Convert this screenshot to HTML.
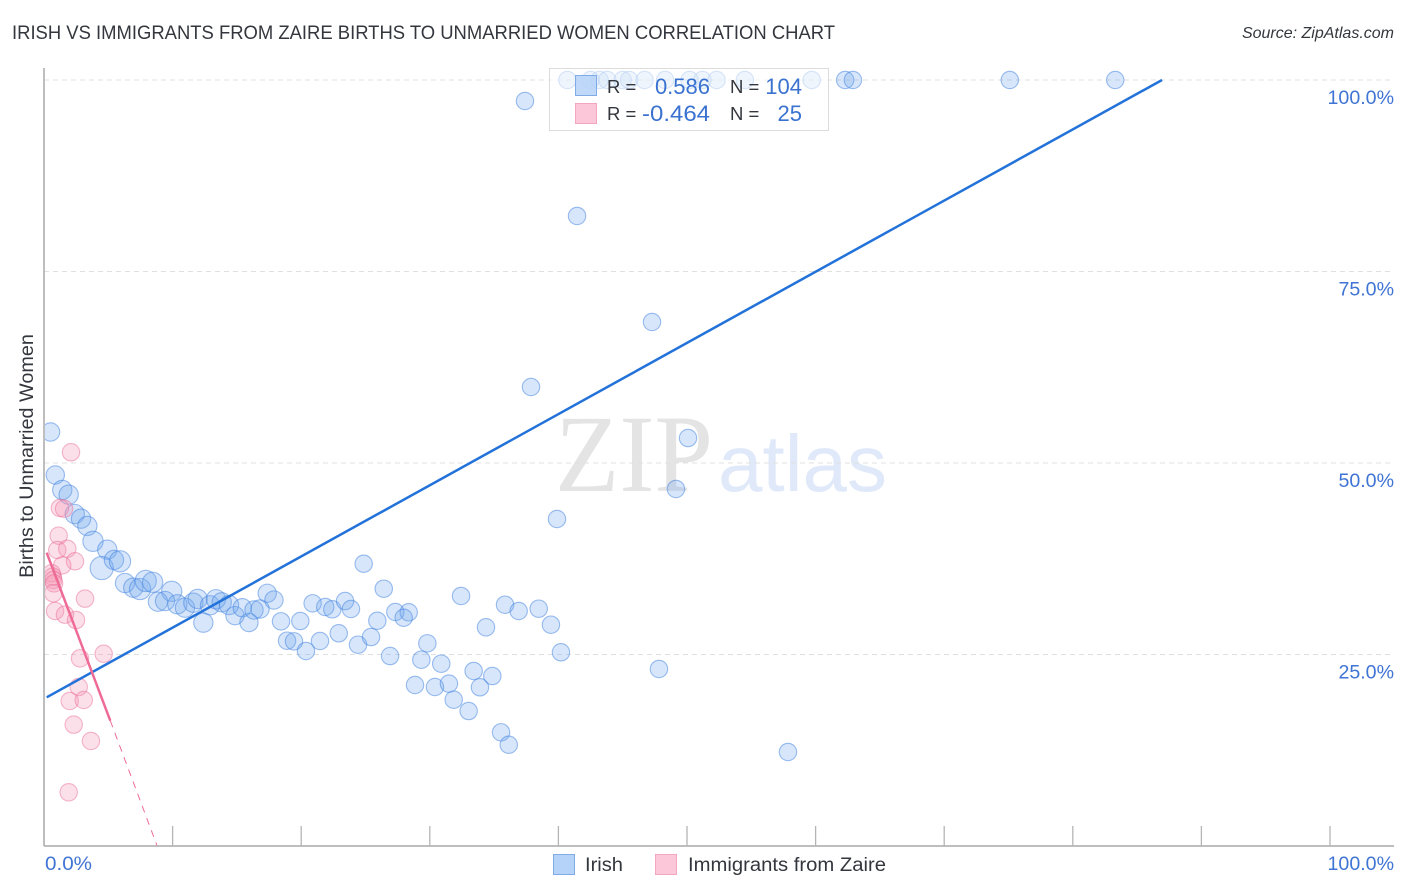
<!DOCTYPE html>
<html lang="en">
<head>
<meta charset="utf-8">
<title>Irish vs Immigrants from Zaire Births to Unmarried Women Correlation Chart</title>
<style>
  html, body { margin: 0; padding: 0; background: #fff; }
  body { width: 1406px; height: 892px; overflow: hidden; }
  svg { display: block; }
  text { font-family: "Liberation Sans", sans-serif; }
</style>
</head>
<body>
<svg id="chart" xmlns="http://www.w3.org/2000/svg" width="1406" height="892" viewBox="0 0 1406 892">
  <defs>
    <clipPath id="plot-clip"><rect x="45" y="60" width="1349" height="786"/></clipPath>
  </defs>
  <text x="12" y="39" font-size="19" fill="#33373d" textLength="823" lengthAdjust="spacingAndGlyphs">IRISH VS IMMIGRANTS FROM ZAIRE BIRTHS TO UNMARRIED WOMEN CORRELATION CHART</text>
  <text x="1394" y="38" font-size="16" font-style="italic" fill="#33373d" text-anchor="end">Source: ZipAtlas.com</text>
  <g>
    <text x="555" y="491" font-size="110" fill="#e4e4e4" textLength="158" lengthAdjust="spacingAndGlyphs" style="font-family:'Liberation Serif',serif">ZIP</text>
    <text x="718" y="491" font-size="80" fill="#dfe9f9" textLength="169" lengthAdjust="spacingAndGlyphs">atlas</text>
  </g>
  <g id="grid"></g>
  <g id="irish-points" clip-path="url(#plot-clip)"></g>
  <g id="zaire-points" clip-path="url(#plot-clip)"></g>
  <g id="trends"></g>
  <g id="axes"></g>
  <text transform="translate(33,456) rotate(-90)" font-size="19.8" fill="#33373d" text-anchor="middle">Births to Unmarried Women</text>

  <g>
    <rect x="549.5" y="68.5" width="279" height="62" fill="#fff" fill-opacity="0.6" stroke="#dcdcdc"/>
    <rect x="575.5" y="75.5" width="21" height="20" fill="#b5d2f8" fill-opacity="0.85" stroke="#7fabe6"/>
    <rect x="575.5" y="103.5" width="21" height="20" fill="#fcc8d9" stroke="#f3a6c0"/>
    <text x="607" y="93" font-size="18.5" fill="#33373d">R =</text>
    <text x="710" y="94" font-size="22" fill="#3a72d0" text-anchor="end">0.586</text>
    <text x="730" y="93" font-size="18.5" fill="#33373d">N =</text>
    <text x="802" y="94" font-size="22" fill="#3a72d0" text-anchor="end">104</text>
    <text x="607" y="120" font-size="18.5" fill="#33373d">R =</text>
    <text x="642" y="121" font-size="22" fill="#3a72d0" textLength="68" lengthAdjust="spacingAndGlyphs">-0.464</text>
    <text x="730" y="120" font-size="18.5" fill="#33373d">N =</text>
    <text x="802" y="121" font-size="22" fill="#3a72d0" text-anchor="end">25</text>
  </g>

  <g>
    <g>
      <rect x="553.5" y="854.5" width="21" height="20" fill="#b5d2f8" stroke="#7fabe6"/>
      <text x="585" y="871" font-size="19.5" fill="#33373d" textLength="38" lengthAdjust="spacingAndGlyphs">Irish</text>
    </g>
    <g>
      <rect x="655.5" y="854.5" width="21" height="20" fill="#fcc8d9" stroke="#f3a6c0"/>
      <text x="688" y="871" font-size="19" fill="#33373d" textLength="198" lengthAdjust="spacingAndGlyphs">Immigrants from Zaire</text>
    </g>
  </g>
</svg>
<script>
const xTicks = [10, 20, 30, 40, 50, 60, 70, 80, 90, 100];
const yTicks = [25, 50, 75, 100];
const yTickLabels = ["25.0%", "50.0%", "75.0%", "100.0%"];
const xEndLabels = ["0.0%", "100.0%"];

const irishX = [0.51,0.88,1.42,1.92,2.39,2.88,3.37,3.81,4.92,4.49,5.44,5.91,6.30,6.94,7.47,7.91,8.45,9.93,8.86,9.41,10.37,10.96,11.61,11.95,12.91,13.37,13.82,12.39,14.39,14.85,15.42,15.94,16.33,16.80,17.36,17.88,18.43,19.93,20.89,21.87,22.42,23.41,23.87,24.86,26.42,25.92,27.32,28.36,27.97,32.43,35.85,36.91,38.47,39.42,40.2,34.37,18.9,19.44,20.37,21.46,22.92,24.42,25.43,26.91,29.81,29.34,30.89,33.41,34.86,33.9,28.85,30.4,31.49,31.86,33.02,35.54,36.14,37.4,41.45,47.28,37.87,50.08,49.14,39.89,47.82,57.85,40.7,42.5,43.2,43.8,45.0,45.5,46.7,48.3,50.2,51.2,52.3,54.5,59.7,62.3,62.9,75.1,83.3];
const irishY = [54.05,48.43,46.48,45.86,43.34,42.73,41.78,39.78,38.68,36.29,37.34,37.17,34.33,33.72,33.55,34.6,34.43,33.25,31.89,31.98,31.55,31.11,31.76,32.25,31.42,32.21,31.81,29.15,31.46,30.07,31.11,29.18,30.81,30.94,32.99,32.11,29.33,29.37,31.68,31.2,30.9,31.98,30.94,36.85,33.59,29.41,30.55,30.51,29.8,32.64,31.5,30.68,30.98,28.89,25.29,28.55,26.8,26.72,25.46,26.76,27.77,26.28,27.28,24.8,26.46,24.32,23.8,22.85,22.19,20.72,21.02,20.76,21.19,19.1,17.62,14.84,13.22,97.26,82.25,68.41,59.92,53.26,46.61,42.69,23.11,12.27,100,100,100,100,100,100,100,100,100,100,100,100,100,100,100,100,100];
const irishPopulation = [1.11,1.11,1.23,1.23,1.23,1.23,1.23,1.36,1.23,1.78,1.23,1.49,1.23,1.23,1.49,1.49,1.36,1.36,1.23,1.23,1.23,1.23,1.23,1.23,1.23,1.23,1.23,1.23,1.23,1.11,1.11,1.11,1.11,1.11,1.11,1.11];

const zaireX = [2.1,1.24,1.56,1.14,1.03,1.81,2.41,1.42,3.19,0.6,0.68,0.72,0.78,0.72,0.86,1.63,2.49,2.8,4.64,2.7,2.0,3.09,2.31,3.65,1.92];
const zaireY = [51.4,44.13,44.03,40.51,38.64,38.81,37.17,36.64,32.29,35.6,35.16,34.73,34.29,32.99,30.68,30.2,29.5,24.5,25.1,20.76,18.93,19.06,15.84,13.71,7.01];

const irishTrendX = [0.21, 86.94];
const irishTrendY = [19.41, 100];
const zaireTrendX = [0.21, 5.155];
const zaireTrendY = [38.29, 16.36];
const zaireProjectionX = [5.155, 8.8];
const zaireProjectionY = [16.36, 0];

const SVG_NS = "http://www.w3.org/2000/svg";
const plotLeft = 44, plotBottom = 846, plotRight = 1394;
function xScale(v) { return plotLeft + v * 12.86; }
function yScale(v) { return plotBottom - v * 7.66; }
function make(tag, parent, attrs) {
  const el = document.createElementNS(SVG_NS, tag);
  for (const k in attrs) el.setAttribute(k, attrs[k]);
  parent.appendChild(el);
  return el;
}

const grid = document.getElementById("grid");
yTicks.forEach(function (t) {
  const line = make("line", grid, { x1: plotLeft, x2: plotRight, y1: yScale(t), y2: yScale(t), stroke: "#e0e0e0", "stroke-width": 1, "stroke-dasharray": "5 4" });
  
  
});

const irishGroup = document.getElementById("irish-points");
irishX.forEach(function (v, i) {
  const w = irishPopulation[i] === undefined ? 1 : irishPopulation[i];
  const c = make("circle", irishGroup, { cx: xScale(v), cy: yScale(irishY[i]), r: 8.7 * Math.sqrt(w), fill: "#6ea5ee", "fill-opacity": 0.28, stroke: "#3d80e0", "stroke-opacity": 0.5, "stroke-width": 1.1 });
  
  
});

const zaireGroup = document.getElementById("zaire-points");
zaireX.forEach(function (v, i) {
  const c = make("circle", zaireGroup, { cx: xScale(v), cy: yScale(zaireY[i]), r: 8.7, fill: "#f48fb1", "fill-opacity": 0.28, stroke: "#ea6f9a", "stroke-opacity": 0.5, "stroke-width": 1.1 });
  
  
});

const trends = document.getElementById("trends");
const irishLine = make("line", trends, { x1: xScale(irishTrendX[0]), y1: yScale(irishTrendY[0]), x2: xScale(irishTrendX[1]), y2: yScale(irishTrendY[1]), stroke: "#2272d9", "stroke-width": 2.5 });


const zaireLine = make("line", trends, { x1: xScale(zaireTrendX[0]), y1: yScale(zaireTrendY[0]), x2: xScale(zaireTrendX[1]), y2: yScale(zaireTrendY[1]), stroke: "#ee6b96", "stroke-width": 2.5 });


const zaireDash = make("line", trends, { x1: xScale(zaireProjectionX[0]), y1: yScale(zaireProjectionY[0]), x2: xScale(zaireProjectionX[1]), y2: yScale(zaireProjectionY[1]), stroke: "#ee6b96", "stroke-width": 1, "stroke-dasharray": "7 6" });



const axes = document.getElementById("axes");
const yAxis = make("line", axes, { x1: plotLeft, x2: plotLeft, y1: 68, y2: plotBottom, stroke: "#a9a9a9", "stroke-width": 1.5 });


const xAxis = make("line", axes, { x1: plotLeft, x2: plotRight, y1: plotBottom, y2: plotBottom, stroke: "#a9a9a9", "stroke-width": 1.5 });


xTicks.forEach(function (t) {
  const tick = make("line", axes, { x1: xScale(t), x2: xScale(t), y1: plotBottom - 20, y2: plotBottom, stroke: "#b5b5b5", "stroke-width": 1.3 });
  
  
});
yTicks.forEach(function (t, i) {
  const label = make("text", axes, { x: 1394, y: yScale(t) + 24, "font-size": 19.6, fill: "#3f74d4", "text-anchor": "end" });
  label.textContent = yTickLabels[i];
  
  
});
const xLabelStart = make("text", axes, { x: 45, y: 870, "font-size": 19.6, fill: "#3f74d4", textLength: 47, lengthAdjust: "spacingAndGlyphs" });
xLabelStart.textContent = xEndLabels[0];


const xLabelEnd = make("text", axes, { x: 1394, y: 870, "font-size": 19.6, fill: "#3f74d4", "text-anchor": "end" });
xLabelEnd.textContent = xEndLabels[1];


</script>
</body>
</html>
